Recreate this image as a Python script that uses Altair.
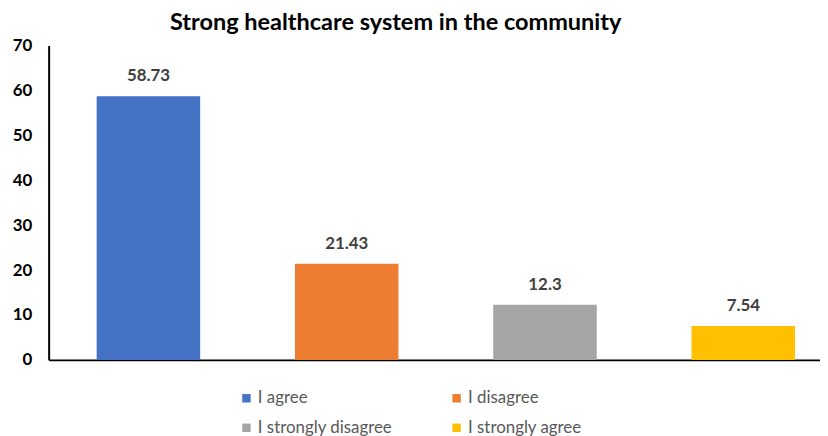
import altair as alt
import pandas as pd

categories = ["I agree", "I disagree", "I strongly disagree", "I strongly agree"]
values = [58.73, 21.43, 12.3, 7.54]
labels = ["58.73", "21.43", "12.3", "7.54"]
colors = ["#4472C4", "#ED7D31", "#A5A5A5", "#FFC000"]
y_ticks = [0, 10, 20, 30, 40, 50, 60, 70]
title_text = "Strong healthcare system in the community"

df = pd.DataFrame({"category": categories, "value": values, "label": labels})

FONT = "Lato"

base = alt.Chart(df).encode(
    x=alt.X(
        "category:N",
        sort=categories,
        scale=alt.Scale(paddingInner=0.478, paddingOuter=0.184, align=0.658),
        axis=alt.Axis(labels=False, ticks=False, title=None, domainColor="black", domainWidth=2),
    ),
    y=alt.Y(
        "value:Q",
        scale=alt.Scale(domain=[0, 70], nice=False),
        axis=alt.Axis(
            values=y_ticks, title=None, grid=False, ticks=False,
            labelFontWeight="bold", labelFontSize=17, labelPadding=17,
            labelColor="black", domainColor="black", domainWidth=2, labelFont=FONT,
        ),
    ),
)

bars = base.mark_bar().encode(
    color=alt.Color(
        "category:N",
        scale=alt.Scale(domain=categories, range=colors),
        legend=alt.Legend(
            title=None, orient="none", legendX=191, legendY=347, columns=2,
            direction="horizontal",
            symbolType="square", symbolSize=72, symbolStrokeWidth=0,
            labelFontSize=17, labelColor="#595959", labelFont=FONT,
            columnPadding=56, rowPadding=12, labelOffset=3,
        ),
    )
)

text = base.mark_text(
    dy=-11, baseline="bottom", fontWeight="bold", fontSize=17, color="#404040", font=FONT
).encode(text="label:N")

chart = (
    (bars + text)
    .properties(
        width=778, height=317,
        title=alt.TitleParams(title_text, fontSize=23.7, fontWeight="bold", font=FONT,
                              color="black", anchor="middle", dx=-39, offset=2),
        autosize=alt.AutoSizeParams(type="none"),
        padding={"left": 41, "top": 36, "right": 0, "bottom": 90},
    )
    .configure_view(stroke=None)
)

chart.save("out.html", embed_options={"renderer": "svg", "actions": False})
